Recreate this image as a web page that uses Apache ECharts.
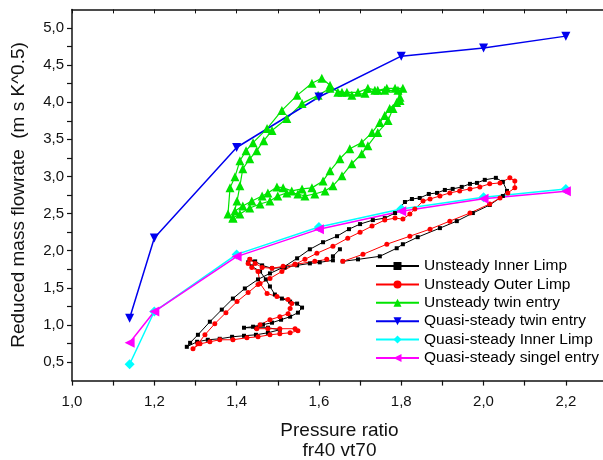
<!DOCTYPE html>
<html lang="en">
<head>
  <meta charset="UTF-8">
  <title>Reduced mass flowrate</title>
  <script src="https://cdn.jsdelivr.net/npm/echarts@6/dist/echarts.min.js"></script>
  <style>
    body { margin: 0; background: #fff; }
    #chart { width: 603px; height: 460px; }
  </style>
</head>
<body>
  <div id="chart"></div>
  <script>
    // tick values
    var xTicks = [1.0, 1.1, 1.2, 1.3, 1.4, 1.5, 1.6, 1.7, 1.8, 1.9, 2.0, 2.1, 2.2];
    var xLabels = [1.0, 1.2, 1.4, 1.6, 1.8, 2.0, 2.2];
    var yTicks = [0.5, 0.75, 1.0, 1.25, 1.5, 1.75, 2.0, 2.25, 2.5, 2.75, 3.0, 3.25, 3.5, 3.75, 4.0, 4.25, 4.5, 4.75, 5.0];
    var yLabels = [0.5, 1.0, 1.5, 2.0, 2.5, 3.0, 3.5, 4.0, 4.5, 5.0];

    // Unsteady Inner Limp
    var innerLimp = [
      [1.651, 2.019], [1.634, 1.924], [1.634, 1.870], [1.602, 1.843], [1.578, 1.829], [1.547, 1.802],
      [1.517, 1.775], [1.486, 1.762], [1.462, 1.802], [1.445, 1.856], [1.432, 1.883], [1.428, 1.843],
      [1.437, 1.789], [1.457, 1.721], [1.471, 1.613], [1.481, 1.518], [1.493, 1.409], [1.510, 1.355],
      [1.530, 1.314], [1.547, 1.287], [1.559, 1.233], [1.549, 1.165], [1.530, 1.111], [1.508, 1.070],
      [1.486, 1.030], [1.464, 1.003], [1.440, 0.976], [1.418, 0.962], [1.447, 0.962], [1.476, 0.962],
      [1.505, 0.935], [1.476, 0.894], [1.447, 0.867], [1.418, 0.854], [1.389, 0.840], [1.359, 0.813],
      [1.330, 0.800], [1.304, 0.773], [1.279, 0.705],
      [1.287, 0.759], [1.306, 0.867], [1.335, 1.043], [1.364, 1.206], [1.391, 1.355], [1.420, 1.491],
      [1.452, 1.613], [1.481, 1.694], [1.513, 1.775], [1.547, 1.897], [1.578, 2.019], [1.610, 2.114],
      [1.644, 2.195], [1.673, 2.290], [1.700, 2.358], [1.731, 2.412], [1.760, 2.439], [1.785, 2.507],
      [1.809, 2.656], [1.826, 2.696], [1.845, 2.710], [1.867, 2.764], [1.887, 2.778], [1.906, 2.818],
      [1.925, 2.832], [1.947, 2.859], [1.967, 2.900], [1.984, 2.913], [2.003, 2.954], [2.030, 2.981],
      [2.047, 2.927], [2.057, 2.805], [2.047, 2.737], [2.015, 2.615], [1.974, 2.507], [1.935, 2.398],
      [1.894, 2.304], [1.840, 2.182], [1.804, 2.087], [1.789, 2.033], [1.748, 1.924], [1.695, 1.883],
      [1.658, 1.856]
    ];

    // Unsteady Outer Limp
    var outerLimp = [
      [1.619, 1.883], [1.590, 1.856], [1.542, 1.816], [1.513, 1.789], [1.486, 1.762], [1.462, 1.775],
      [1.445, 1.829], [1.432, 1.883], [1.428, 1.829], [1.437, 1.775], [1.452, 1.721], [1.457, 1.558],
      [1.474, 1.423], [1.498, 1.382], [1.525, 1.342], [1.534, 1.287], [1.530, 1.220], [1.525, 1.152],
      [1.505, 1.111], [1.481, 1.070], [1.457, 1.003], [1.449, 0.949], [1.476, 0.949], [1.505, 0.949],
      [1.542, 0.949], [1.549, 0.921], [1.530, 0.894], [1.505, 0.881], [1.481, 0.867], [1.452, 0.840],
      [1.425, 0.827], [1.391, 0.800], [1.359, 0.800], [1.335, 0.773], [1.311, 0.745], [1.294, 0.678],
      [1.306, 0.745], [1.323, 0.867], [1.347, 1.016], [1.374, 1.165], [1.401, 1.314], [1.428, 1.436],
      [1.452, 1.545], [1.481, 1.626], [1.510, 1.721], [1.542, 1.816], [1.566, 1.883], [1.595, 1.965],
      [1.634, 2.060], [1.670, 2.168], [1.700, 2.249], [1.729, 2.331], [1.760, 2.412], [1.785, 2.439],
      [1.804, 2.426], [1.821, 2.493], [1.833, 2.561], [1.853, 2.669], [1.870, 2.696], [1.894, 2.737],
      [1.918, 2.778], [1.942, 2.805], [1.967, 2.832], [1.991, 2.859], [2.015, 2.900], [2.040, 2.913],
      [2.064, 2.981], [2.076, 2.940], [2.076, 2.846], [2.059, 2.778], [2.040, 2.710], [2.015, 2.629],
      [1.967, 2.507], [1.918, 2.398], [1.870, 2.290], [1.821, 2.195], [1.765, 2.087], [1.707, 1.951],
      [1.658, 1.856]
    ];

    // Unsteady twin entry
    var twinEntry = [
      [1.379, 2.493], [1.384, 2.846], [1.396, 2.995], [1.408, 3.211], [1.423, 3.347], [1.440, 3.455],
      [1.474, 3.645], [1.510, 3.889], [1.547, 4.092], [1.583, 4.255], [1.607, 4.322], [1.627, 4.228],
      [1.646, 4.133], [1.668, 4.133], [1.695, 4.133], [1.719, 4.187], [1.743, 4.160], [1.765, 4.187],
      [1.785, 4.187], [1.804, 4.187], [1.797, 4.065], [1.789, 3.997], [1.772, 3.916], [1.760, 3.821],
      [1.748, 3.726], [1.729, 3.591], [1.704, 3.455], [1.675, 3.374], [1.651, 3.238], [1.627, 3.076],
      [1.610, 2.940], [1.583, 2.846], [1.559, 2.832], [1.534, 2.805], [1.513, 2.846], [1.498, 2.859],
      [1.476, 2.778], [1.462, 2.737], [1.437, 2.669], [1.415, 2.602], [1.396, 2.534],
      [1.391, 2.439], [1.401, 2.669], [1.408, 2.873], [1.415, 3.103], [1.432, 3.238], [1.449, 3.347],
      [1.466, 3.482], [1.486, 3.618], [1.522, 3.780], [1.559, 3.984], [1.598, 4.092], [1.627, 4.187],
      [1.656, 4.133], [1.680, 4.092], [1.712, 4.119], [1.736, 4.160], [1.760, 4.160], [1.792, 4.160],
      [1.797, 4.024], [1.780, 3.916], [1.768, 3.753], [1.743, 3.591], [1.719, 3.415], [1.704, 3.306],
      [1.680, 3.171], [1.656, 3.008], [1.634, 2.873], [1.615, 2.805], [1.590, 2.764], [1.566, 2.737],
      [1.549, 2.764], [1.522, 2.778], [1.500, 2.737], [1.481, 2.669], [1.457, 2.629], [1.432, 2.575],
      [1.408, 2.493], [1.391, 2.439]
    ];

    // quasi-steady curves
    var quasiX = [1.14, 1.2, 1.4, 1.6, 1.8, 2.0, 2.2];
    var quasiTwin = [1.09, 2.17, 3.39, 4.07, 4.62, 4.73, 4.89];
    var quasiInner = [0.47, 1.18, 1.95, 2.32, 2.56, 2.72, 2.83];
    var quasiSingle = [0.76, 1.18, 1.92, 2.29, 2.53, 2.70, 2.80];

    function pairs(xs, ys) {
      return xs.map(function (x, i) { return [x, ys[i]]; });
    }
    function comma(v) {
      return v.toFixed(1).replace('.', ',');
    }

    var chart = echarts.init(document.getElementById('chart'));
    var font = 'Liberation Sans, Arial, sans-serif';
    var axisCol = '#111';

    var option = {
      animation: false,
      backgroundColor: '#fff',
      textStyle: { fontFamily: font },
      grid: { left: 72, right: -4, top: 9.4, bottom: 79.4, outerBoundsMode: 'none' },
      legend: {
        left: 370,
        top: 253,
        orient: 'vertical',
        itemWidth: 43,
        itemHeight: 10,
        itemGap: 2.4,
        textStyle: { fontFamily: font, fontSize: 15.5, color: '#000', lineHeight: 15 },
        data: ['Unsteady Inner Limp', 'Unsteady Outer Limp', 'Unsteady twin entry',
               'Quasi-steady twin entry', 'Quasi-steady Inner Limp', 'Quasi-steady singel entry']
      },
      xAxis: [{
        type: 'value',
        min: 1.0,
        max: 2.3,
        name: 'Pressure ratio\nfr40 vt70',
        nameLocation: 'middle',
        nameGap: 40,
        nameTextStyle: { fontFamily: font, fontSize: 19, color: '#111', lineHeight: 20 },
        axisLine: { lineStyle: { color: axisCol, width: 1.5 } },
        axisTick: { show: true, length: 5, customValues: xTicks, lineStyle: { color: axisCol, width: 1.2 } },
        axisLabel: { customValues: xLabels, formatter: comma, fontSize: 15, color: '#111', margin: 14 },
        splitLine: { show: false }
      }, {
        type: 'value',
        position: 'top',
        min: 1.0,
        max: 2.3,
        axisLine: { show: true, lineStyle: { color: axisCol, width: 1.5 } },
        axisTick: { show: true, inside: true, length: 4, customValues: xTicks, lineStyle: { color: axisCol } },
        axisLabel: { show: false },
        splitLine: { show: false }
      }],
      yAxis: {
        type: 'value',
        min: 0.25,
        max: 5.25,
        name: 'Reduced mass flowrate  (m s K^0.5)',
        nameLocation: 'middle',
        nameGap: 44,
        nameTextStyle: { fontFamily: font, fontSize: 19, color: '#111' },
        axisLine: { show: true, lineStyle: { color: axisCol, width: 1.5 } },
        axisTick: { show: true, length: 5, customValues: yTicks, lineStyle: { color: axisCol, width: 1.2 } },
        axisLabel: { customValues: yLabels, formatter: comma, fontSize: 15, color: '#111', margin: 8 },
        splitLine: { show: false }
      },
      series: [{
        name: 'Unsteady Inner Limp',
        type: 'line',
        data: innerLimp,
        symbol: 'rect',
        symbolSize: 4,
        itemStyle: { color: '#000' },
        lineStyle: { color: '#000', width: 1 }
      }, {
        name: 'Unsteady Outer Limp',
        type: 'line',
        data: outerLimp,
        symbol: 'circle',
        symbolSize: 5,
        itemStyle: { color: '#ff0000' },
        lineStyle: { color: '#ff0000', width: 1 }
      }, {
        name: 'Unsteady twin entry',
        type: 'line',
        data: twinEntry,
        symbol: 'triangle',
        symbolSize: 9,
        itemStyle: { color: '#00e400' },
        lineStyle: { color: '#00e400', width: 1.2 }
      }, {
        name: 'Quasi-steady twin entry',
        type: 'line',
        data: pairs(quasiX, quasiTwin),
        symbol: 'triangle',
        symbolRotate: 180,
        symbolSize: 9,
        itemStyle: { color: '#0000ee' },
        lineStyle: { color: '#0000ee', width: 1.5 }
      }, {
        name: 'Quasi-steady Inner Limp',
        type: 'line',
        data: pairs(quasiX, quasiInner),
        symbol: 'diamond',
        symbolSize: 10,
        itemStyle: { color: '#00ffff' },
        lineStyle: { color: '#00ffff', width: 1.5 }
      }, {
        name: 'Quasi-steady singel entry',
        type: 'line',
        data: pairs(quasiX, quasiSingle),
        symbol: 'triangle',
        symbolRotate: 90,
        symbolSize: 10,
        itemStyle: { color: '#ff00ff' },
        lineStyle: { color: '#ff00ff', width: 1.5 }
      }]
    };

    chart.setOption(option);
  </script>
</body>
</html>
